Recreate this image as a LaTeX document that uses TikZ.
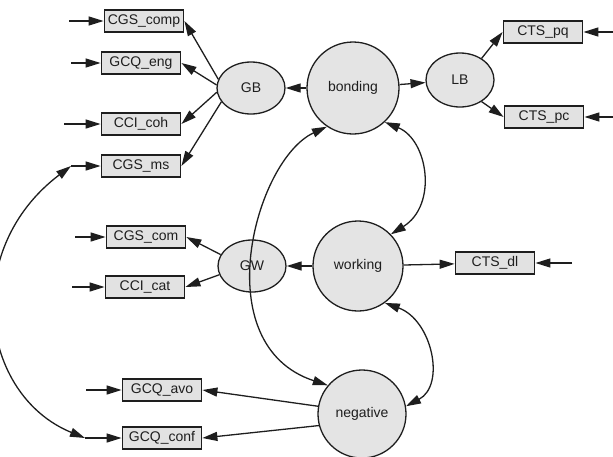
\documentclass[tikz,border=0pt]{standalone}
\usepackage{fontspec}
\setmainfont{Liberation Sans}
\usetikzlibrary{arrows.meta,shapes.geometric}
\definecolor{boxgray}{HTML}{E2E2E2}
\definecolor{latgray}{HTML}{E4E4E4}
\definecolor{ink}{HTML}{1E1E1E}
\begin{document}
\begin{tikzpicture}[x=1pt, y=-1pt, thick,
  obs/.style={draw=ink, line width=1.8pt, fill=boxgray, text=ink, minimum width=79pt, minimum height=22pt, inner sep=0pt, font=\fontsize{14}{15}\selectfont},
  lat/.style={draw=ink, line width=1.3pt, ellipse, fill=latgray, text=ink, inner sep=0pt, minimum width=68pt, minimum height=52pt, font=\fontsize{14}{15}\selectfont},
  fac/.style={lat, circle, minimum size=90pt},
  regr/.style={draw=ink, line width=1.3pt, -{Triangle[length=15pt,width=9pt]}},
  covar/.style={draw=ink, line width=1.3pt, {Triangle[length=15pt,width=9pt]}-{Triangle[length=15pt,width=9pt]}}]
\clip (0,0) rectangle (613,456);
%\draw[help lines, step=50] (0,0) grid (613,456);
%%%%%%%%%%%%%%%%%%%%%%%%%%%%%%% factors
\node[fac, minimum size=92pt](bonding) at (353,88){bonding};
\node[fac](working) at (358,266){working};
\node[fac, minimum size=88pt](negative) at (362,414){negative};
\node[lat](GB) at (251,88){GB};
\node[lat, minimum height=54pt](LB) at (460,80){LB};
\node[lat](GW) at (252,266){GW};
%%%%%%%%%%%%%%%%%%%%%%%%%%%%%%% observed
\node[obs](comp) at (144,21){CGS\_comp};
\node[obs](eng) at (141,63){GCQ\_eng};
\node[obs](coh) at (141,124){CCI\_coh};
\node[obs](ms) at (141,166){CGS\_ms};
\node[obs](pq) at (543,32){CTS\_pq};
\node[obs](pc) at (544,117){CTS\_pc};
\node[obs](com) at (146,237){CGS\_com};
\node[obs](cat) at (145,287){CCI\_cat};
\node[obs](dl) at (495,263){CTS\_dl};
\node[obs](avo) at (162,390){GCQ\_avo};
\node[obs](conf) at (162,438){GCQ\_conf};
%%%%%%%%%%%%%%%%%%%%%%%%%%%%%%% error inputs
\coordinate(e1) at (69,21);
\coordinate(e2) at (71,63);
\coordinate(e3) at (64,124);
\coordinate(e4) at (71,166);
\coordinate(e5) at (613,32);
\coordinate(e6) at (613,117);
\coordinate(e7) at (75,237);
\coordinate(e8) at (72,287);
\coordinate(e9) at (572,263);
\coordinate(e10) at (86,390);
\coordinate(e11) at (85,438);
\draw[regr] (e1) -- (comp);
\draw[regr] (e2) -- (eng);
\draw[regr] (e3) -- (coh);
\draw[regr] (e4) -- (ms);
\draw[regr] (e5) -- (pq);
\draw[regr] (e6) -- (pc);
\draw[regr] (e7) -- (com);
\draw[regr] (e8) -- (cat);
\draw[regr] (e9) -- (dl);
\draw[regr] (e10) -- (avo);
\draw[regr] (e11) -- (conf);
%%%%%%%%%%%%%%%%%%%%%%%%%%%%%%% paths
\draw[regr] (bonding) -- (GB);
\draw[regr] (bonding) -- (LB);
\draw[regr] (working) -- (GW);
\draw[regr] (working) -- (dl);
\draw[regr] (GB.165) -- (comp.east);
\draw[regr] (GB.175) -- (eng.east);
\draw[regr] (GB.187) -- (coh.east);
\draw[regr] (GB.205) -- (ms.east);
\draw[regr] (LB.45) -- (pq.west);
\draw[regr] (LB.-45) -- (pc.west);
\draw[regr] (GW.160) -- (com.east);
\draw[regr] (GW.195) -- (cat.east);
\draw[regr] (negative.170) -- (avo.east);
\draw[regr] (negative.195) -- (conf.east);
%%%%%%%%%%%%%%%%%%%%%%%%%%%%%%% covariances
\draw[covar] (bonding.-47) .. controls (428,140) and (438,205) .. (working.44);
\draw[covar] (working.-54) .. controls (432,320) and (446,385) .. (negative.10);
\draw[covar] (bonding.236) .. controls (255,160) and (205,345) .. (negative.140);
\draw[covar] (e4) .. controls (-40,250) and (-20,395) .. (e11);
\end{tikzpicture}
\end{document}
